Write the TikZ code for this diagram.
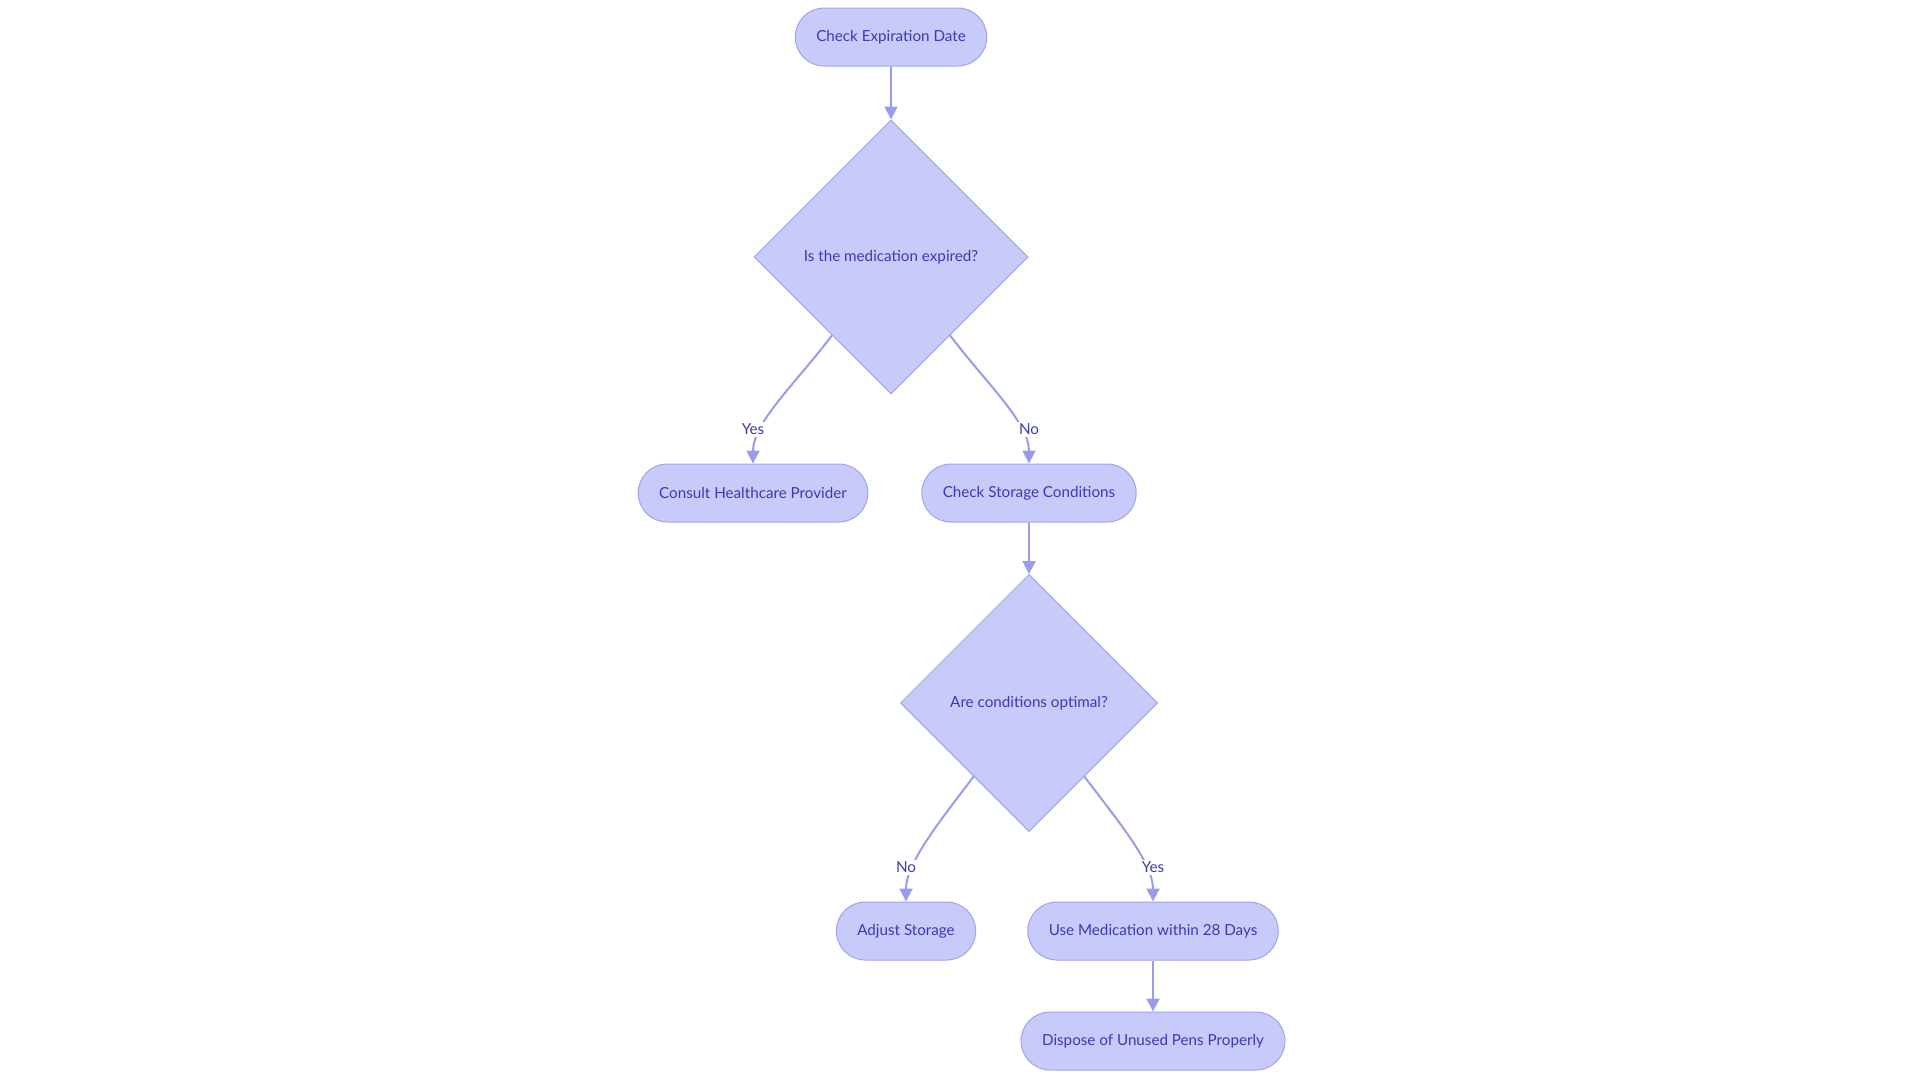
\documentclass[tikz,border=0pt]{standalone}
\usepackage{fontspec}
\setmainfont{Lato}
\usetikzlibrary{shapes,arrows.meta}
\definecolor{nodefill}{RGB}{200,202,250}
\definecolor{nodeline}{RGB}{160,163,236}
\definecolor{nodetext}{RGB}{58,58,182}
\definecolor{edgeline}{RGB}{153,156,234}

\begin{document}
\begin{tikzpicture}
[x=0.5pt, y=0.5pt,
stepnode/.style={rectangle, rounded corners=14.5pt, draw=nodeline, line width=0.5pt, fill=nodefill, text=nodetext, minimum height=29pt, inner xsep=10.5pt, font=\fontsize{7.6}{9}\selectfont},
decnode/.style={diamond, draw=nodeline, line width=0.5pt, fill=nodefill, text=nodetext, inner sep=0pt, font=\fontsize{7.6}{9}\selectfont},
flowline/.style={draw=edgeline, line width=1pt, -{Triangle[length=6.5pt,width=6.5pt]}},
edgelabel/.style={fill=white, text=nodetext, inner sep=1pt, pos=1, yshift=17pt, font=\fontsize{7.6}{9}\selectfont},
]
\useasboundingbox (0,0) rectangle (1920,-1083);
%expiry check
\node[stepnode](chkexp) at (891,-37) {Check Expiration Date};
\node[decnode, minimum width=137pt, minimum height=137pt](isexp) at (891,-257) {Is the medication expired?};
\node[stepnode](consult) at (753,-493) {Consult Healthcare Provider};
\node[stepnode](chkstore) at (1029,-493) {Check Storage Conditions};
%storage check
\node[decnode, minimum width=128.5pt, minimum height=128.5pt](isopt) at (1029,-703) {Are conditions optimal?};
\node[stepnode](adjust) at (906,-931) {Adjust Storage};
\node[stepnode](usemed) at (1153,-931) {Use Medication within 28 Days};
\node[stepnode](dispose) at (1153,-1041) {Dispose of Unused Pens Properly};
%draw line
\draw[flowline] (chkexp.south) -- (isexp.north);
\draw[flowline] (isexp.-127) to[out=-127, in=90, in looseness=0.7] node[edgelabel](yes1) {Yes} (consult.north);
\draw[flowline] (isexp.-53) to[out=-53, in=90, in looseness=0.7] node[edgelabel](no1) {No} (chkstore.north);
\draw[flowline] (chkstore.south) -- (isopt.north);
\draw[flowline] (isopt.-127) to[out=-127, in=90, in looseness=0.7] node[edgelabel](no2) {No} (adjust.north);
\draw[flowline] (isopt.-53) to[out=-53, in=90, in looseness=0.7] node[edgelabel](yes2) {Yes} (usemed.north);
\draw[flowline] (usemed.south) -- (dispose.north);
\end{tikzpicture}
\end{document}
